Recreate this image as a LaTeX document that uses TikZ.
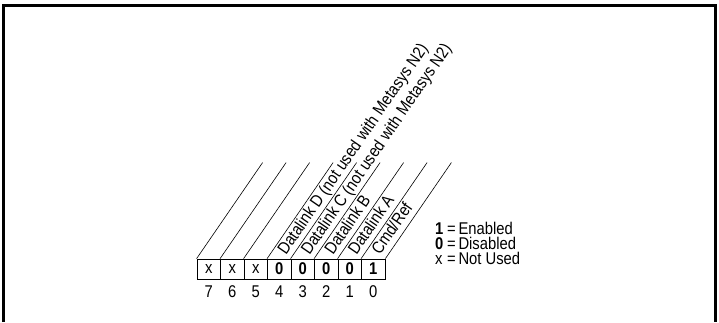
\documentclass[tikz,border=0pt]{standalone}
\usepackage{fontspec}
\setmainfont{Liberation Sans}[FakeStretch=0.87]
\usetikzlibrary{calc}
\begin{document}
\begin{tikzpicture}[x=1pt,y=1pt,
  txt/.style={inner sep=0pt, font=\fontsize{17}{19}\selectfont},
  cell/.style={txt, draw, line width=0.8pt, minimum width=23.5pt, minimum height=20pt},
  lbl/.style={txt, anchor=base west, rotate=55.5},
  slant/.style={line width=0.6pt},
  frame/.style={line width=3pt}]
\useasboundingbox (0,0) rectangle (719,322);
\draw[frame] (3,0) -- (3,316.5) -- (715.5,316.5) -- (715.5,0);
% register cells
\foreach \k/\v in {0/x,1/x,2/x,3/\textbf{0},4/\textbf{0},5/\textbf{0},6/\textbf{0},7/\textbf{1}}
  \node[cell] (c\k) at ({197+23.5*(\k+0.5)},53) {\v};
% bit numbers
\foreach \k/\n in {0/7,1/6,2/5,3/4,4/3,5/2,6/1,7/0}
  \node[txt] (n\k) at ({197+23.5*(\k+0.5)},30) {\n};
% slanted lines
\foreach \k in {0,...,7}{
  \path (c\k.north west) ++(55.5:116.5) coordinate (t\k);
  \draw[slant] (c\k.north west) -- (t\k);
}
\path (c7.north east) ++(55.5:116.5) coordinate (t8);
\draw[slant] (c7.north east) -- (t8);
% labels
\foreach \k/\s in {3/{Datalink D (not used with Metasys N2)},4/{Datalink C (not used with Metasys N2)},5/{Datalink B},6/{Datalink A},7/{Cmd/Ref}}
  \path (c\k.north) ++(55.5:6) ++(-34.5:4) node[lbl] (L\k) {\s};
% legend
\node[txt, anchor=base west] (l1) at (435,88) {\makebox[9pt][l]{\textbf{1}}\,=\,Enabled};
\node[txt, anchor=base west] (l2) at (435,73) {\makebox[9pt][l]{\textbf{0}}\,=\,Disabled};
\node[txt, anchor=base west] (l3) at (435,58) {\makebox[9pt][l]{x}\,=\,Not Used};
\end{tikzpicture}
\end{document}
